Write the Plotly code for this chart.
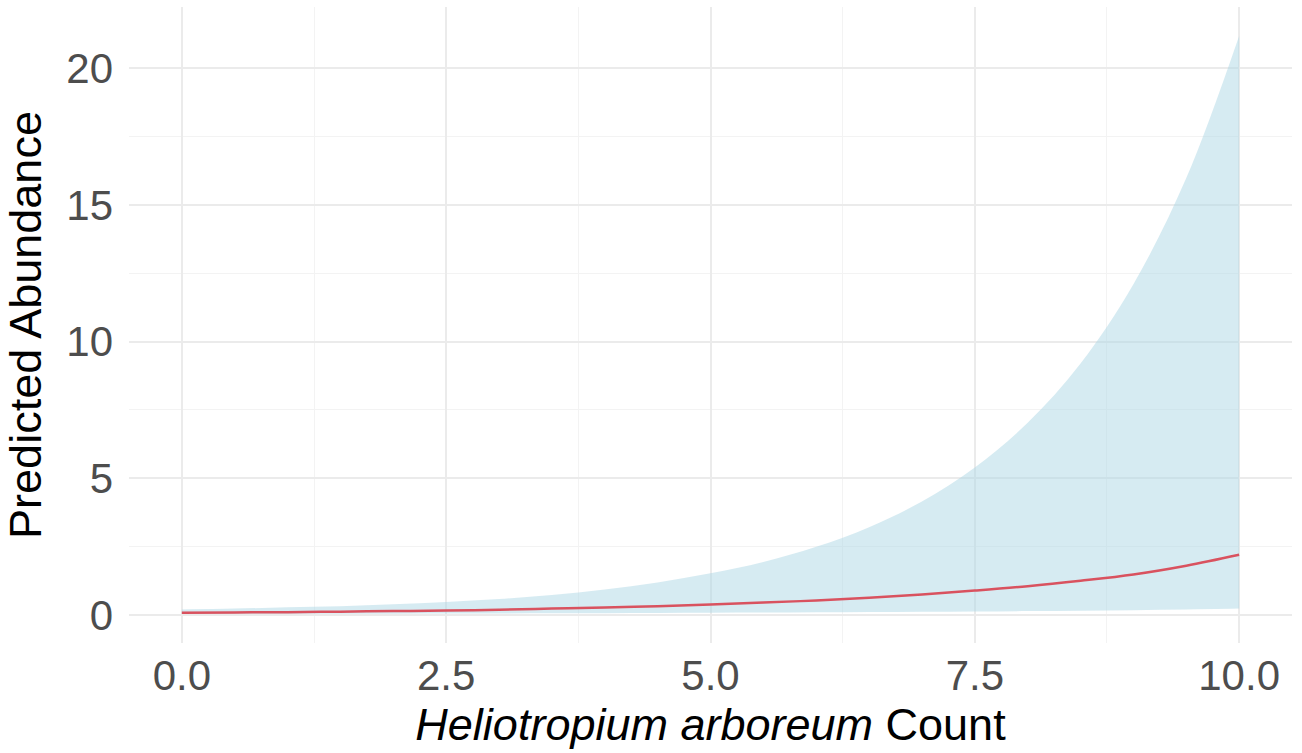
import plotly.graph_objects as go

# Predicted abundance with 95% interval across Heliotropium arboreum counts
count = [0.0, 0.5, 1.0, 1.5, 2.0, 2.5, 3.0, 3.5, 4.0, 4.5, 5.0,
         5.5, 6.0, 6.5, 7.0, 7.5, 8.0, 8.5, 9.0, 9.5, 10.0]
fit = [0.08, 0.09, 0.10, 0.12, 0.14, 0.16, 0.19, 0.23, 0.27, 0.32, 0.38,
       0.45, 0.53, 0.63, 0.75, 0.89, 1.05, 1.25, 1.48, 1.80, 2.20]
lower = [0.030, 0.033, 0.036, 0.040, 0.044, 0.048, 0.053, 0.058, 0.064, 0.070, 0.077,
         0.085, 0.094, 0.104, 0.115, 0.127, 0.140, 0.155, 0.175, 0.200, 0.230]
upper = [0.20, 0.23, 0.28, 0.32, 0.39, 0.47, 0.58, 0.73, 0.93, 1.19, 1.52,
         1.94, 2.49, 3.21, 4.15, 5.39, 7.03, 9.20, 12.10, 15.98, 21.18]

x_ticks = [0.0, 2.5, 5.0, 7.5, 10.0]
x_tick_text = ["0.0", "2.5", "5.0", "7.5", "10.0"]
y_ticks = [0, 5, 10, 15, 20]

# ggplot-style 5% expansion of the data range
x_lo, x_hi = min(count), max(count)
x_pad = (x_hi - x_lo) * 0.05
y_lo, y_hi = min(lower), max(upper)
y_pad = (y_hi - y_lo) * 0.05

fig = go.Figure()
fig.add_trace(go.Scatter(x=count, y=lower, mode="lines",
                         line=dict(width=0, shape="spline"),
                         hoverinfo="skip", showlegend=False))
fig.add_trace(go.Scatter(x=count, y=upper, mode="lines",
                         line=dict(width=0, shape="spline"),
                         fill="tonexty", fillcolor="rgba(173,216,230,0.5)",
                         showlegend=False))
fig.add_trace(go.Scatter(x=count, y=fit, mode="lines",
                         line=dict(color="#d9525f", width=2.5, shape="spline"),
                         showlegend=False))

grid_major = "#EBEBEB"
grid_minor = "#F3F3F3"
tick_font = dict(family="Liberation Sans, Arial, sans-serif", size=42, color="#4D4D4D")
title_font = dict(family="Liberation Sans, Arial, sans-serif", size=45, color="black")

fig.update_layout(
    width=1302, height=753,
    margin=dict(l=129, r=10, t=7, b=110),
    paper_bgcolor="white", plot_bgcolor="white",
    xaxis=dict(
        range=[x_lo - x_pad, x_hi + x_pad],
        tickvals=x_ticks, ticktext=x_tick_text,
        tickfont=tick_font,
        showgrid=True, gridcolor=grid_major, gridwidth=2,
        minor=dict(dtick=1.25, tick0=0, showgrid=True, gridcolor=grid_minor, gridwidth=1),
        zeroline=False, showline=False,
        ticks="", ticklabelstandoff=4,
        title=dict(text="<i>Heliotropium arboreum</i> Count", font=title_font, standoff=2),
    ),
    yaxis=dict(
        range=[y_lo - y_pad, y_hi + y_pad],
        tickvals=y_ticks,
        tickfont=tick_font,
        showgrid=True, gridcolor=grid_major, gridwidth=2,
        minor=dict(dtick=2.5, tick0=0, showgrid=True, gridcolor=grid_minor, gridwidth=1),
        zeroline=False, showline=False,
        ticks="", ticklabelstandoff=15,
        title=dict(text="Predicted Abundance", font=title_font, standoff=10),
    ),
)

fig.write_html("out.html")
